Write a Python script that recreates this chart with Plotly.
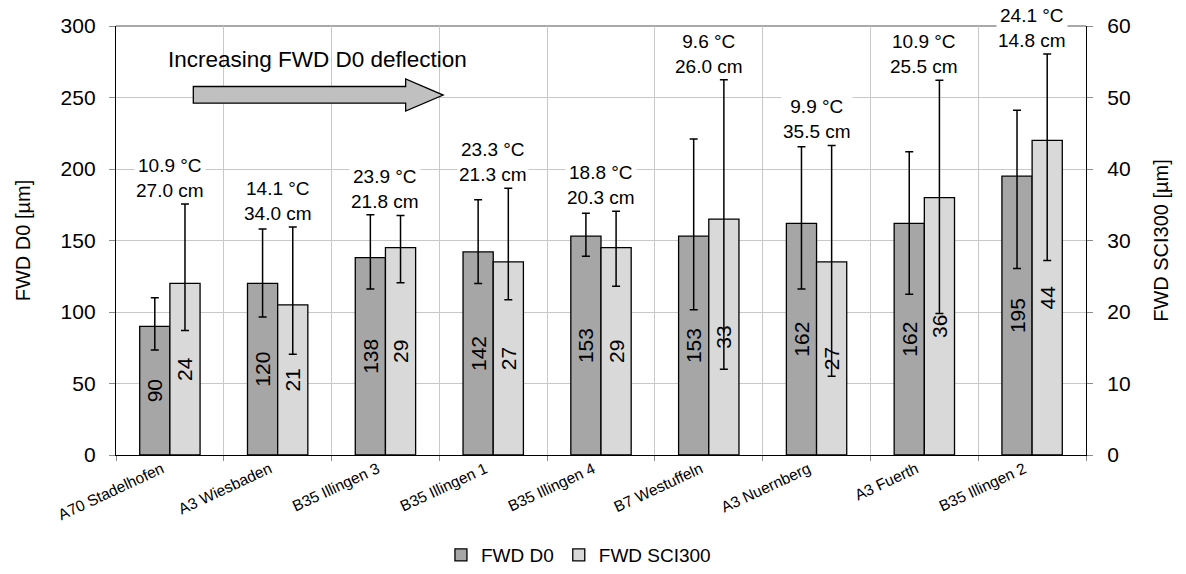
import plotly.graph_objects as go

# ---------------- data ----------------
sites = ["A70 Stadelhofen", "A3 Wiesbaden", "B35 Illingen 3", "B35 Illingen 1",
         "B35 Illingen 4", "B7 Westuffeln", "A3 Nuernberg", "A3 Fuerth", "B35 Illingen 2"]
d0 = [90, 120, 138, 142, 153, 153, 162, 162, 195]
d0_high = [110, 158, 168, 178.5, 169, 221, 215.5, 212, 241]
d0_low = [73.5, 96.5, 116, 120, 139, 101.5, 116, 112.5, 130.5]
sci300 = [24, 21, 29, 27, 29, 33, 27, 36, 44]
sci_high = [35.1, 31.9, 33.5, 37.3, 34.1, 52.5, 43.3, 52.4, 56.1]
sci_low = [17.4, 14.1, 24.1, 21.7, 23.6, 12.0, 11.0, 19.8, 27.2]
temperature = ["10.9", "14.1", "23.9", "23.3", "18.8", "9.6", "9.9", "10.9", "24.1"]
thickness = ["27.0", "34.0", "21.8", "21.3", "20.3", "26.0", "35.5", "25.5", "14.8"]

Y1_MAX, Y2_MAX = 300, 60
FONT = "Liberation Sans, Arial, sans-serif"

d0_plus = [h - v for h, v in zip(d0_high, d0)]
d0_minus = [v - l for l, v in zip(d0_low, d0)]
sci_plus = [h - v for h, v in zip(sci_high, sci300)]
sci_minus = [v - l for l, v in zip(sci_low, sci300)]

fig = go.Figure()
fig.add_trace(go.Bar(
    name="FWD D0", x=sites, y=d0, yaxis="y",
    width=0.28, offset=-0.28,
    marker=dict(color="#a6a6a6", line=dict(color="#000000", width=1.3)),
    error_y=dict(type="data", symmetric=False, array=d0_plus, arrayminus=d0_minus,
                 color="#000000", thickness=1.5, width=4),
    text=[str(v) for v in d0], textposition="inside", insidetextanchor="middle",
    textangle=-90, textfont=dict(family=FONT, size=21, color="#000000"),
))
fig.add_trace(go.Bar(
    name="FWD SCI300", x=sites, y=sci300, yaxis="y2",
    width=0.28, offset=0,
    marker=dict(color="#d9d9d9", line=dict(color="#000000", width=1.3)),
    error_y=dict(type="data", symmetric=False, array=sci_plus, arrayminus=sci_minus,
                 color="#000000", thickness=1.5, width=4),
    text=[str(v) for v in sci300], textposition="inside", insidetextanchor="middle",
    textangle=-90, textfont=dict(family=FONT, size=21, color="#000000"),
))

# temperature / thickness labels above each group
annotations = []
scale = Y1_MAX / Y2_MAX
for i, s in enumerate(sites):
    top = max(d0_high[i], sci_high[i] * scale)
    annotations.append(dict(
        x=s, y=top, xref="x", yref="y", yanchor="bottom", xanchor="center", yshift=1,
        text=f"{temperature[i]} °C<br>{thickness[i]} cm", showarrow=False,
        bgcolor="#ffffff", borderpad=1,
        font=dict(family=FONT, size=19, color="#000000")))

annotations.append(dict(
    x=0.208, y=0.921, xref="paper", yref="paper", xanchor="center", yanchor="middle",
    showarrow=False,
    text="Increasing FWD D0 deflection", font=dict(family=FONT, size=22.5, color="#000000")))

shapes = [
    # top border of plot area
    dict(type="line", xref="paper", yref="paper", x0=0, x1=1, y0=1, y1=1,
         line=dict(color="#8c8c8c", width=1.3), layer="below"),
    # big arrow
    dict(type="path", xref="paper", yref="paper",
         path="M0.0797,0.859 L0.2986,0.859 L0.2986,0.8765 L0.3373,0.839 "
              "L0.2986,0.8019 L0.2986,0.820 L0.0797,0.820 Z",
         fillcolor="#c0c0c0", line=dict(color="#000000", width=1.3)),
]

fig.update_layout(
    width=1186, height=574,
    margin=dict(l=116, r=100, t=26, b=119, autoexpand=False),
    paper_bgcolor="#ffffff", plot_bgcolor="#ffffff",
    font=dict(family=FONT, size=20, color="#000000"),
    barmode="overlay",
    showlegend=True,
    legend=dict(orientation="h", x=0.335, xanchor="left", xref="paper",
                y=0.033, yanchor="middle", yref="container",
                font=dict(family=FONT, size=19, color="#000000"),
                itemwidth=30, traceorder="normal", bgcolor="rgba(0,0,0,0)"),
    uniformtext=dict(minsize=21, mode="show"),
    xaxis=dict(type="category", range=[-0.5, len(sites) - 0.5], tickson="boundaries",
               automargin=False,
               showgrid=True, gridcolor="#c8c8c8", gridwidth=1,
               showline=True, linecolor="#000000", linewidth=1.3,
               ticks="outside", ticklen=5, tickcolor="#8c8c8c",
               tickangle=-25, ticklabelshift=-8, ticklabelstandoff=-2,
               tickfont=dict(family=FONT, size=15.5, color="#000000")),
    yaxis=dict(range=[0, Y1_MAX], dtick=50, showgrid=True, gridcolor="#c8c8c8", gridwidth=1,
               automargin=False,
               showline=True, linecolor="#000000", linewidth=1.3, zeroline=False,
               ticks="outside", ticklen=6, tickcolor="#8c8c8c", ticklabelstandoff=9,
               tickfont=dict(family=FONT, size=21, color="#000000"),
               title=dict(text="FWD D0 [µm]", standoff=24,
                          font=dict(family=FONT, size=20, color="#000000"))),
    yaxis2=dict(range=[0, Y2_MAX], dtick=10, overlaying="y", side="right", showgrid=False,
                automargin=False,
                showline=True, linecolor="#000000", linewidth=1.3, zeroline=False,
                ticks="outside", ticklen=6, tickcolor="#8c8c8c", ticklabelstandoff=10,
                tickfont=dict(family=FONT, size=21, color="#000000"),
                title=dict(text="FWD SCI300 [µm]", standoff=24,
                           font=dict(family=FONT, size=20, color="#000000"))),
    annotations=annotations,
    shapes=shapes,
)

fig.write_html("out.html", config={"displayModeBar": False},
               post_script="document.body.style.margin='0';document.body.style.padding='0';")
